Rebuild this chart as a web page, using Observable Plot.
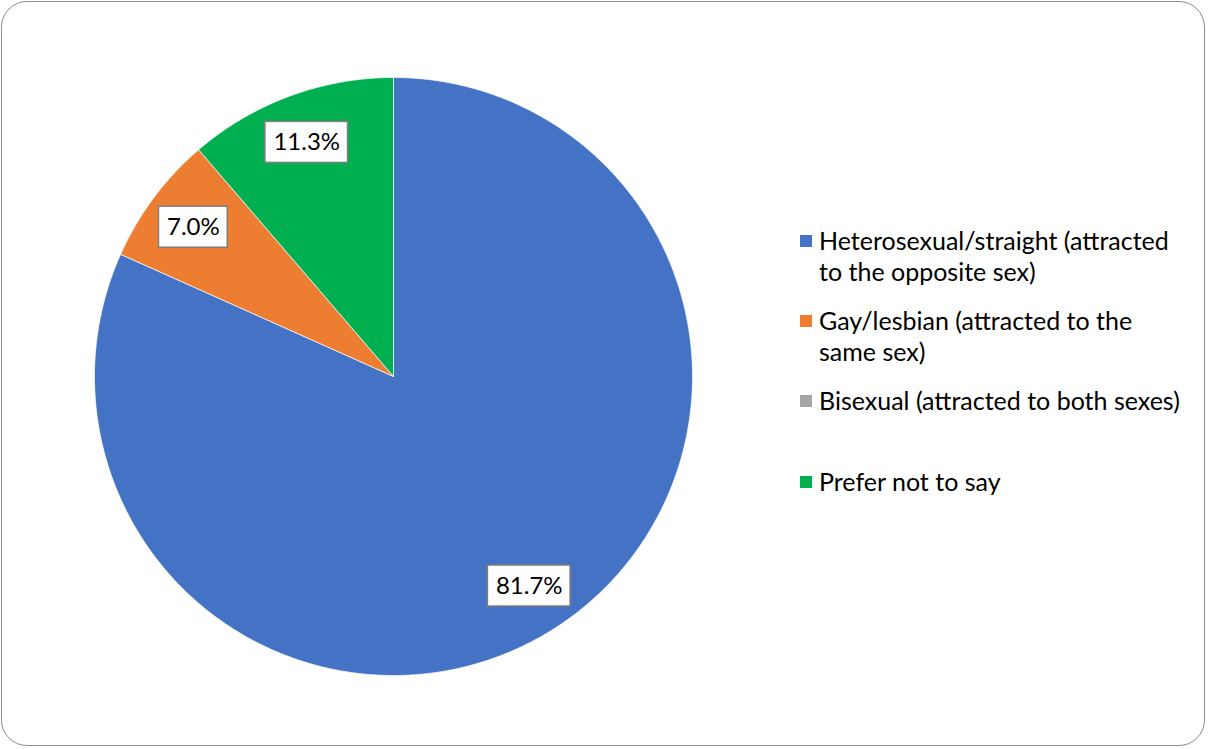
<!DOCTYPE html>
<html><head><meta charset="utf-8">
<script src="https://cdn.jsdelivr.net/npm/d3@7"></script>
<script src="https://cdn.jsdelivr.net/npm/@observablehq/plot@0.6"></script>
<style>
body{margin:0;background:#fff;font-family:Lato,"Liberation Sans",sans-serif;}
#wrap{position:relative;width:1208px;height:749px;overflow:hidden;background:#fff}
#chart{position:absolute;left:0;top:0}
#frame{position:absolute;left:1px;top:1px;width:1202px;height:743px;border:1.5px solid #8c8c8c;border-radius:26px;pointer-events:none}
#legend{position:absolute;left:800px;top:0;width:400px;height:749px}
.item{position:absolute;left:0;width:400px;font-size:25px;line-height:31px;color:#000}
.sw{position:absolute;left:0;top:10px;width:12px;height:12px}
.txt{position:absolute;left:19px;top:0;width:366px}
</style>
</head><body>
<div id="wrap"><div id="chart"></div><div id="legend"></div><div id="frame"></div></div>
<script>
const categories = ["Heterosexual/straight (attracted to the opposite sex)", "Gay/lesbian (attracted to the same sex)", "Bisexual (attracted to both sexes)", "Prefer not to say"];
const values = [81.7, 7.0, 0.0, 11.3];
const colors = ["#4472C4", "#ED7D31", "#A5A5A5", "#00B050"];

const W = 1208, H = 749, cx = 393, cy = 376, R = 299;
const FONT = "Lato";

const total = d3.sum(values);
let acc = 0;
const slices = categories.map((c, i) => {
  const a0 = acc / total * 2 * Math.PI; acc += values[i];
  const a1 = acc / total * 2 * Math.PI;
  return {cat: c, value: values[i], a0, a1};
});
const pts = [];
for (const s of slices) {
  if (!(s.value > 0)) continue;
  pts.push({cat: s.cat, x: 0, y: 0});
  const n = Math.max(2, Math.ceil((s.a1 - s.a0) * 180 / Math.PI * 2));
  for (let k = 0; k <= n; k++) {
    const a = s.a0 + (s.a1 - s.a0) * k / n;
    pts.push({cat: s.cat, x: Math.sin(a), y: Math.cos(a)});
  }
  pts.push({cat: s.cat, x: 0, y: 0});
}
const ctx = document.createElement("canvas").getContext("2d");
ctx.font = `24px ${FONT}`;
const labels = slices.filter(s => s.value > 0).map(s => {
  const m = (s.a0 + s.a1) / 2, rr = 0.835;
  const text = s.value.toFixed(1) + "%";
  const w = ctx.measureText(text).width / 2 + 8;
  const x = rr * Math.sin(m), y = rr * Math.cos(m);
  return {cat: s.cat, text, x, y, x1: x - w / R, x2: x + w / R, y1: y - 20.5 / R, y2: y + 20.5 / R};
});

const plot = Plot.plot({
  width: W, height: H, margin: 0,
  style: {fontFamily: FONT, background: "transparent"},
  x: {domain: [-1, 1], range: [cx - R, cx + R], axis: null},
  y: {domain: [-1, 1], range: [cy + R, cy - R], axis: null},
  color: {domain: categories, range: colors},
  marks: [
    Plot.line(pts, {x: "x", y: "y", z: "cat", fill: "cat", stroke: "white", strokeWidth: 1, strokeOpacity: 0.7, curve: "linear"}),
    Plot.rect(labels, {x1: "x1", x2: "x2", y1: "y1", y2: "y2", fill: "white", stroke: "#7f7f7f", strokeWidth: 1.5}),
    Plot.text(labels, {x: "x", y: "y", text: "text", fontSize: 24, fill: "#000"})
  ]
});
document.getElementById("chart").appendChild(plot);

const leg = document.getElementById("legend");
categories.forEach((c, i) => {
  const d = document.createElement("div");
  d.className = "item";
  d.style.top = (224.5 + i * 80.4) + "px";
  d.innerHTML = `<div class="sw" style="background:${colors[i]}"></div><div class="txt"></div>`;
  d.querySelector(".txt").textContent = c;
  leg.appendChild(d);
});
</script>
</body></html>
